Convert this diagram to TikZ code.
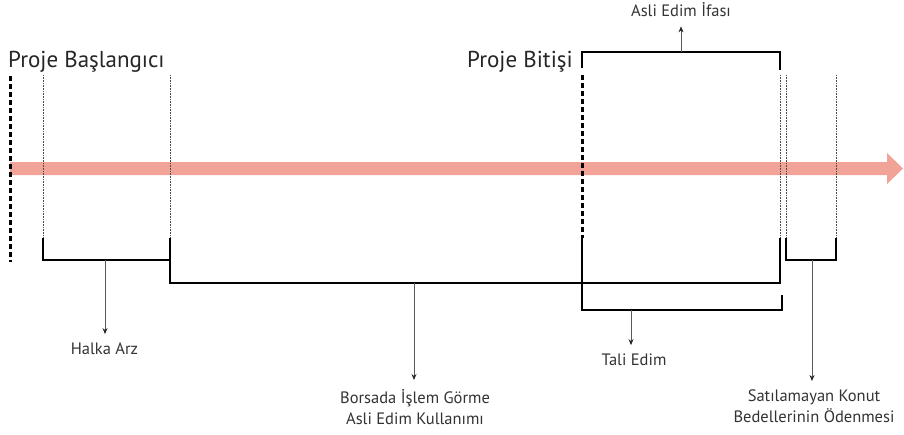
\documentclass[tikz,border=0pt]{standalone}
\usepackage{fontspec}
\setmainfont{PT Sans}
\usetikzlibrary{arrows.meta}
\definecolor{salmon}{RGB}{240,163,150}
\begin{document}
\begin{tikzpicture}[x=1pt,y=-1pt,
  bracket/.style={line width=2.3pt, line join=miter, line cap=butt},
  guide/.style={line width=0.5pt, draw=black!70, dash pattern=on 0.8pt off 0.8pt},
  bigdash/.style={line width=3pt, dash pattern=on 5pt off 3pt},
  pointer/.style={line width=0.8pt, draw=black!65, -{Stealth[length=6pt,width=5pt,black!85]}},
  title/.style={font=\fontsize{23}{26}\selectfont, text=black!85, inner sep=0pt},
  lbl/.style={font=\fontsize{16.5}{21}\selectfont, text=black!80, align=center, inner sep=0pt}]
\useasboundingbox (0,0) rectangle (904,434);

% timeline arrow
\fill[salmon] (10,162) -- (887,162) -- (887,153) -- (903,168.5) -- (887,184) -- (887,175) -- (10,175) -- cycle;

% labels
\node[title, anchor=base west] (start) at (8,67) {Proje Başlangıcı};
\node[title, anchor=base east] (finish) at (573,67) {Proje Bitişi};
\node[lbl, anchor=base] (ifa) at (681,16) {Asli Edim İfası};
\node[lbl, anchor=base] (halka) at (104.5,354) {Halka Arz};
\node[lbl, anchor=base] (tali) at (634,365) {Tali Edim};
\node[lbl, anchor=north] (borsa) at (415,389) {Borsada İşlem Görme\\Asli Edim Kullanımı};
\node[lbl, anchor=north] (satil) at (814,390) {Satılamayan Konut\\Bedellerinin Ödenmesi};

% guide lines
\foreach \x/\n in {43/ga,170/gb,780/gc,786/gd,836/ge}{
  \coordinate (\n t) at (\x,75);
  \coordinate (\n b) at (\x,238);
  \draw[guide] (\n t) -- (\n b);
}
\coordinate (s0t) at (10,76);
\coordinate (s0b) at (10,262);
\draw[bigdash] (s0t) -- (s0b);
\coordinate (e0t) at (582,75);
\coordinate (e0b) at (582,238);
\draw[bigdash] (e0t) -- (e0b);

% Halka Arz bracket
\coordinate (hm) at (105,260);
\draw[bracket] (gab) -- (43,260) -- (170,260);
\draw[pointer] (hm) -- ([yshift=8pt]hm |- halka.north);

% big bracket
\coordinate (bm) at (414,283);
\draw[bracket] (gbb) -- (170,283) -- (780,283) -- (gcb);
\draw[pointer] (bm) -- ([yshift=9pt]bm |- borsa.north);

% Tali Edim bracket
\coordinate (tm) at (631,310);
\draw[line width=2pt] (e0b) -- (582,310) -- (782,310) -- (782,295);
\draw[pointer] (tm) -- ([yshift=8pt]tm |- tali.north);

% Asli Edim Ifasi bracket
\coordinate (im) at (681,52);
\draw[line width=2pt] (582,68) -- (582,52) -- (780,52) -- (780,70);
\draw[pointer] (im) -- ([yshift=-10pt]im |- ifa.south);

% Satilamayan bracket
\coordinate (sm) at (812,260);
\draw[line width=2pt] (gdb) -- (786,260) -- (836,260) -- (geb);
\draw[pointer] (sm) -- ([yshift=9pt]sm |- satil.north);
\end{tikzpicture}
\end{document}
